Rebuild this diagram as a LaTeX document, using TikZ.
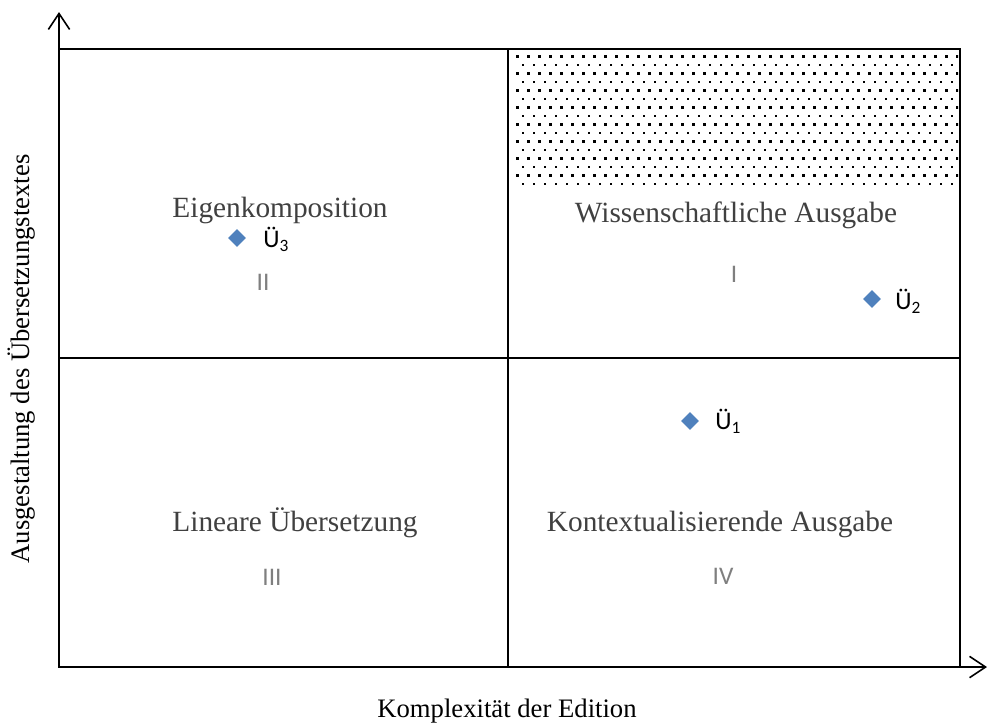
\documentclass[tikz,border=0pt]{standalone}
\usepackage{fontspec}
\setmainfont{Liberation Serif}
\newfontfamily\carlito{Carlito}
\usetikzlibrary{arrows.meta,shapes.geometric}
\definecolor{quadtext}{HTML}{404040}
\definecolor{numtext}{HTML}{7F7F7F}
\definecolor{markblue}{HTML}{4F81BD}
\tikzset{
  frameline/.style={line width=1.8pt, black},
  axisline/.style={line width=1.2pt, -{Straight Barb[length=12pt,width=16pt,line width=1.2pt]}},
  quadlabel/.style={anchor=base, text=quadtext, font=\fontsize{22}{26}\selectfont, inner sep=0pt},
  numlabel/.style={anchor=base, text=numtext, font=\carlito\fontsize{19}{22}\selectfont, inner sep=0pt},
  axislabel/.style={anchor=base, text=black, font=\fontsize{20}{24}\selectfont, inner sep=0pt},
  marker/.style={diamond, fill=markblue, inner sep=0pt, minimum width=13.5pt, minimum height=13.5pt},
  marklabel/.style={anchor=base west, font=\carlito\fontsize{19}{21}\selectfont, inner sep=0pt},
}
\newcommand{\sbs}[1]{\raisebox{-0.35ex}{\fontsize{13}{13}\selectfont #1}}
\begin{document}
\begin{tikzpicture}[x=0.75pt,y=-0.75pt]
\useasboundingbox (0,0) rectangle (987,722);

% dotted band in quadrant I
\begin{scope}
  \clip (512,52) rectangle (958,186);
  \foreach \r in {0,...,7} {
    \foreach \c in {0,...,40} {
      \fill (516+11*\c, 55+17*\r) rectangle ++(2.6,2.6);
    }
  }
  \foreach \r in {0,...,7} {
    \foreach \c in {0,...,40} {
      \fill (521.5+11*\c, 63.5+17*\r) rectangle ++(2.6,2.6);
    }
  }
\end{scope}

% quadrant frame
\coordinate (tl) at (59,49);
\coordinate (br) at (960,667);
\draw[frameline] (tl) rectangle (br);
\coordinate (mt) at (508,49);
\coordinate (mb) at (508,667);
\coordinate (ml) at (59,358);
\coordinate (mr) at (960,358);
\draw[frameline] (mt) -- (mb);
\draw[frameline] (ml) -- (mr);

% axes
\coordinate (origin) at (59,667);
\coordinate (ytip) at (59,12);
\coordinate (xtip) at (987,667);
\draw[axisline] (origin) -- (ytip);
\draw[axisline] (origin) -- (xtip);

\node[axislabel] (xlab) at (507,717) {Komplexität der Edition};
\node[axislabel, rotate=90] (ylab) at (29,359) {Ausgestaltung des Übersetzungstextes};

% quadrant names
\node[quadlabel] (q2) at (280,217) {Eigenkomposition};
\node[quadlabel] (q1) at (736,222) {Wissenschaftliche Ausgabe};
\node[quadlabel] (q3) at (295,531) {Lineare Übersetzung};
\node[quadlabel] (q4) at (720,531) {Kontextualisierende Ausgabe};

\node[numlabel] (n2) at (263,290) {II};
\node[numlabel] (n1) at (734,282) {I};
\node[numlabel] (n3) at (272,585) {III};
\node[numlabel] (n4) at (723,584) {IV};

% translations
\node[marker] (u3) at (237,238) {};
\node[marklabel] (u3l) at (263,247) {Ü\sbs{3}};
\node[marker] (u2) at (872,299) {};
\node[marklabel] (u2l) at (895,309) {Ü\sbs{2}};
\node[marker] (u1) at (690,421) {};
\node[marklabel] (u1l) at (715,429) {Ü\sbs{1}};
\end{tikzpicture}
\end{document}
